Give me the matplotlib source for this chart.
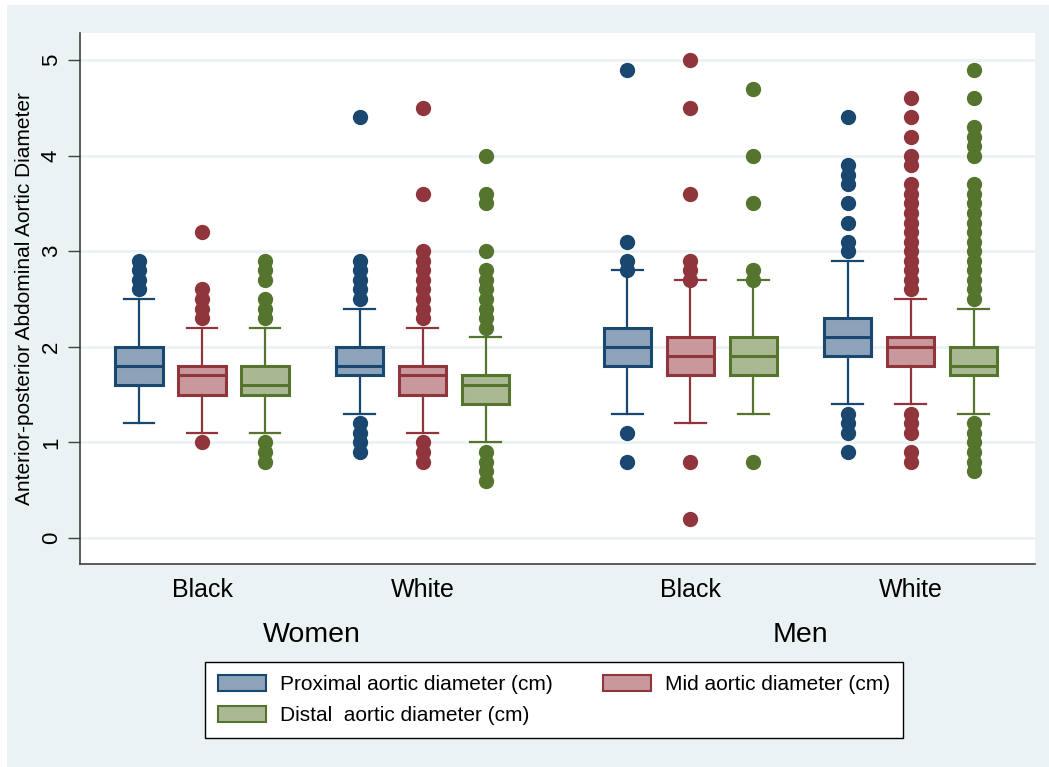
import matplotlib
matplotlib.use("Agg")
import matplotlib.pyplot as plt
from matplotlib.patches import Patch, Rectangle

plt.rcParams['font.family'] = ['Liberation Sans', 'DejaVu Sans']

# groups along the x axis
sexes = ["Women", "Men"]
races = ["Black", "White", "Black", "White"]
series_names = ["Proximal aortic diameter (cm)", "Mid aortic diameter (cm)",
                "Distal  aortic diameter (cm)"]

# Proximal aortic diameter: box stats per group (Women Black, Women White, Men Black, Men White)
prox_lo = [1.2, 1.3, 1.3, 1.4]
prox_q1 = [1.6, 1.7, 1.8, 1.9]
prox_med = [1.8, 1.8, 2.0, 2.1]
prox_q3 = [2.0, 2.0, 2.2, 2.3]
prox_hi = [2.5, 2.4, 2.8, 2.9]
prox_out = [
    [2.6, 2.7, 2.8, 2.9],
    [0.9, 1.0, 1.1, 1.2, 2.5, 2.6, 2.7, 2.8, 2.9, 4.4],
    [0.8, 1.1, 2.8, 2.9, 3.1, 4.9],
    [0.9, 1.1, 1.2, 1.3, 3.0, 3.1, 3.3, 3.5, 3.7, 3.8, 3.9, 4.4],
]

# Mid aortic diameter
mid_lo = [1.1, 1.1, 1.2, 1.4]
mid_q1 = [1.5, 1.5, 1.7, 1.8]
mid_med = [1.7, 1.7, 1.9, 2.0]
mid_q3 = [1.8, 1.8, 2.1, 2.1]
mid_hi = [2.2, 2.2, 2.7, 2.5]
mid_out = [
    [1.0, 2.3, 2.4, 2.5, 2.6, 3.2],
    [0.8, 0.9, 1.0, 2.3, 2.4, 2.5, 2.6, 2.7, 2.8, 2.9, 3.0, 3.6, 4.5],
    [0.2, 0.8, 2.7, 2.8, 2.9, 3.6, 4.5, 5.0],
    [0.8, 0.9, 1.1, 1.2, 1.3, 2.6, 2.7, 2.8, 2.9, 3.0, 3.1, 3.2, 3.3, 3.4, 3.5,
     3.6, 3.7, 3.9, 4.0, 4.2, 4.4, 4.6],
]

# Distal aortic diameter
dist_lo = [1.1, 1.0, 1.3, 1.3]
dist_q1 = [1.5, 1.4, 1.7, 1.7]
dist_med = [1.6, 1.6, 1.9, 1.8]
dist_q3 = [1.8, 1.7, 2.1, 2.0]
dist_hi = [2.2, 2.1, 2.7, 2.4]
dist_out = [
    [0.8, 0.9, 1.0, 2.3, 2.4, 2.5, 2.7, 2.8, 2.9],
    [0.6, 0.7, 0.8, 0.9, 2.2, 2.3, 2.4, 2.5, 2.6, 2.7, 2.8, 3.0, 3.5, 3.6, 4.0],
    [0.8, 2.7, 2.8, 3.5, 4.0, 4.7],
    [0.7, 0.8, 0.9, 1.0, 1.1, 1.2, 2.5, 2.6, 2.7, 2.8, 2.9, 3.0, 3.1, 3.2, 3.3,
     3.4, 3.5, 3.6, 3.7, 4.0, 4.1, 4.2, 4.3, 4.6, 4.9],
]

edge_colors = ["#1a476f", "#90353b", "#55752f"]
fill_colors = ["#8da3b9", "#c8989c", "#aab994"]

# group centres (in box-spacing units) and offsets of the 3 boxes
group_pos = [0.0, 3.5, 7.75, 11.25]
offsets = [-1.0, 0.0, 1.0]

series = [
    (prox_lo, prox_q1, prox_med, prox_q3, prox_hi, prox_out),
    (mid_lo, mid_q1, mid_med, mid_q3, mid_hi, mid_out),
    (dist_lo, dist_q1, dist_med, dist_q3, dist_hi, dist_out),
]

W, H = 1049, 767
fig = plt.figure(figsize=(W / 100, H / 100), dpi=100, facecolor="white")
fig.patches.append(Rectangle((7 / W, 0), 1, 1 - 5 / H, transform=fig.transFigure,
                             facecolor="#eaf2f3", edgecolor="none", zorder=-10))

ax = fig.add_axes([80 / W, (H - 564) / H, (1035 - 80) / W, (564 - 33) / H])
ax.set_facecolor("white")

for k, (lo, q1, med, q3, hi, out) in enumerate(series):
    stats = []
    for g in range(4):
        stats.append(dict(whislo=lo[g], q1=q1[g], med=med[g], q3=q3[g],
                          whishi=hi[g], fliers=out[g]))
    pos = [p + offsets[k] for p in group_pos]
    ec = edge_colors[k]
    ax.bxp(stats, positions=pos, widths=0.75, capwidths=0.49, patch_artist=True,
           showfliers=True,
           boxprops=dict(facecolor=fill_colors[k], edgecolor=ec, linewidth=2.2),
           medianprops=dict(color=ec, linewidth=2.2),
           whiskerprops=dict(color=ec, linewidth=1.6),
           capprops=dict(color=ec, linewidth=1.6),
           flierprops=dict(marker="o", markerfacecolor=ec, markeredgecolor=ec,
                           markersize=10, linestyle="none"))

ax.set_xlim((80 - 202) / 63, (1035 - 202) / 63)
ax.set_ylim(-0.272, 5.283)
ax.set_yticks([0, 1, 2, 3, 4, 5])
ax.yaxis.grid(True, color="#eaf2f3", linewidth=2)
ax.set_axisbelow(True)
for s in ["top", "right"]:
    ax.spines[s].set_visible(False)
for s in ["left", "bottom"]:
    ax.spines[s].set_color("#404040")
    ax.spines[s].set_linewidth(1.2)

ax.tick_params(axis="y", length=9, width=1, color="#404040", labelsize=16, pad=4)
for lbl in ax.get_yticklabels():
    lbl.set_rotation(90)
    lbl.set_va("center")
    lbl.set_ha("right")
ax.set_xticks(group_pos)
ax.set_xticklabels(races, fontsize=18)
ax.tick_params(axis="x", length=0, pad=10)

ax.set_ylabel("Anterior-posterior Abdominal Aortic Diameter", fontsize=15, labelpad=5)

for i, sex in enumerate(sexes):
    xc = (group_pos[2 * i] + group_pos[2 * i + 1]) / 2
    ax.text(xc, -0.272 - 71 / 95.6, sex, ha="center", va="center", fontsize=20.5,
            transform=ax.transData, clip_on=False)

handles = [Patch(facecolor=fill_colors[k], edgecolor=edge_colors[k], linewidth=1.5)
           for k in range(3)]
order = [0, 2, 1]
fig.legend([handles[i] for i in order], [series_names[i] for i in order],
           loc="center", bbox_to_anchor=(554 / W, 1 - 700 / H), ncol=2,
           fontsize=15, frameon=True, fancybox=False, edgecolor="black",
           framealpha=1, handlelength=2.3, handleheight=0.8, columnspacing=2.45,
           borderpad=0.62, labelspacing=0.55, handletextpad=0.67, borderaxespad=0)
fig.legends[0].get_frame().set_linewidth(1)

fig.savefig("out.png", dpi=100, facecolor=fig.get_facecolor())
